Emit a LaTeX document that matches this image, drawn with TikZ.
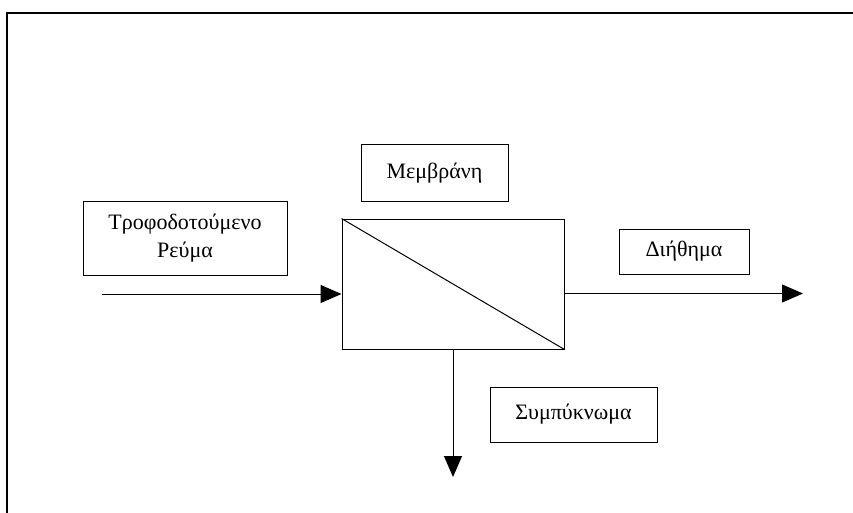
\documentclass[tikz,border=0pt]{standalone}
\usepackage{fontspec}
\setmainfont{Liberation Serif}
\usetikzlibrary{arrows.meta}
\begin{document}
\begin{tikzpicture}[x=1pt,y=-1pt,
  lbl/.style={draw,line width=1pt,align=center,inner sep=0pt,font=\fontsize{22}{28}\selectfont},
  flow/.style={line width=1pt,-{Triangle[length=21pt,width=18pt]}}]
\useasboundingbox (0,0) rectangle (853,513);
\draw[line width=2pt] (7,513) -- (7,13) -- (853,13);
\node[lbl,minimum width=204pt,minimum height=74pt] (feed) at (185,238) {Τροφοδοτούμενο\\Ρεύμα};
\node[lbl,minimum width=147pt,minimum height=56pt] (memlbl) at (434.5,173) {Μεμβράνη};
\node[lbl,minimum width=130pt,minimum height=45pt] (perm) at (684,251.5) {Διήθημα};
\node[lbl,minimum width=167pt,minimum height=55pt] (ret) at (573.5,414.5) {Συμπύκνωμα};
\node[draw,line width=1pt,minimum width=222pt,minimum height=130pt,inner sep=0pt] (mem) at (453,284) {};
\draw[line width=1pt] (mem.north west) -- (mem.south east);
\coordinate (fin) at (102,294);
\coordinate (pout) at (803,293.5);
\coordinate (rout) at (453,477);
\draw[flow] (fin) -- (mem.west |- fin);
\draw[flow] (mem.east |- pout) -- (pout);
\draw[flow] (mem.south) -- (rout);
\end{tikzpicture}
\end{document}
